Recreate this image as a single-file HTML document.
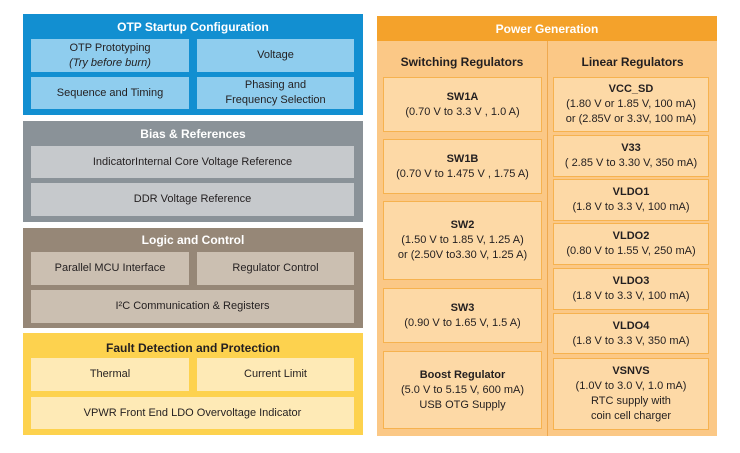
<!DOCTYPE html>
<html><head><meta charset="utf-8"><style>
*{margin:0;padding:0;box-sizing:border-box}
body{width:740px;height:453px;background:#fff;position:relative;overflow:hidden;font-family:"Liberation Sans",Arial,sans-serif;color:#231f20}
.a{position:absolute}
.hd{position:absolute;left:0;width:100%;text-align:center;font-weight:bold;font-size:12px;line-height:14px}
.b{position:absolute;display:flex;align-items:center;justify-content:center;text-align:center;font-size:11px;line-height:15px}
.p{position:absolute;display:flex;align-items:center;justify-content:center;text-align:center;font-size:11px;line-height:15px;background:#fdd9a6;border:1px solid #f6b24f}
.p b{font-weight:bold}
.blue .b{background:#8fcdee}
.gray .b{background:#c6c9cc}
.brown .b{background:#cbbfb1}
.yel .b{background:#feeab6}
</style></head><body>

<div class="a blue" style="left:23px;top:14px;width:340px;height:101px;background:#128fd1">
 <div class="hd" style="top:6px;color:#fff">OTP Startup Configuration</div>
 <div class="b" style="left:8px;top:25px;width:158px;height:33px"><div>OTP Prototyping<br><i>(Try before burn)</i></div></div>
 <div class="b" style="left:174px;top:25px;width:157px;height:33px"><div>Voltage</div></div>
 <div class="b" style="left:8px;top:63px;width:158px;height:32px"><div>Sequence and Timing</div></div>
 <div class="b" style="left:174px;top:63px;width:157px;height:32px"><div>Phasing and<br>Frequency Selection</div></div>
</div>

<div class="a gray" style="left:23px;top:121px;width:340px;height:101px;background:#8a9298">
 <div class="hd" style="top:6px;color:#fff">Bias &amp; References</div>
 <div class="b" style="left:8px;top:25px;width:323px;height:32px"><div>IndicatorInternal Core Voltage Reference</div></div>
 <div class="b" style="left:8px;top:62px;width:323px;height:33px"><div>DDR Voltage Reference</div></div>
</div>

<div class="a brown" style="left:23px;top:228px;width:340px;height:100px;background:#968777">
 <div class="hd" style="top:5px;color:#fff">Logic and Control</div>
 <div class="b" style="left:8px;top:24px;width:158px;height:33px"><div>Parallel MCU Interface</div></div>
 <div class="b" style="left:174px;top:24px;width:157px;height:33px"><div>Regulator Control</div></div>
 <div class="b" style="left:8px;top:62px;width:323px;height:33px"><div>I²C Communication &amp; Registers</div></div>
</div>

<div class="a yel" style="left:23px;top:333px;width:340px;height:102px;background:#fdd24e">
 <div class="hd" style="top:8px;color:#231f20">Fault Detection and Protection</div>
 <div class="b" style="left:8px;top:25px;width:158px;height:33px"><div>Thermal</div></div>
 <div class="b" style="left:174px;top:25px;width:157px;height:33px"><div>Current Limit</div></div>
 <div class="b" style="left:8px;top:64px;width:323px;height:32px"><div>VPWR Front End LDO Overvoltage Indicator</div></div>
</div>

<div class="a" style="left:377px;top:16px;width:340px;height:420px;background:#fbc886">
 <div class="a" style="left:0;top:0;width:340px;height:25px;background:#f4a22b"></div>
 <div class="hd" style="top:6px;color:#fff">Power Generation</div>
 <div class="a" style="left:170px;top:25px;width:1px;height:395px;background:#efa94f"></div>
 <div class="a" style="left:0;top:39px;width:170px;text-align:center;font-weight:bold;font-size:12px;line-height:14px">Switching Regulators</div>
 <div class="a" style="left:171px;top:39px;width:169px;text-align:center;font-weight:bold;font-size:12px;line-height:14px">Linear Regulators</div>
</div>

<div class="p" style="left:383px;top:77px;width:159px;height:55px"><div><b>SW1A</b><br>(0.70 V to 3.3 V , 1.0 A)</div></div>
<div class="p" style="left:383px;top:139px;width:159px;height:55px"><div><b>SW1B</b><br>(0.70 V to 1.475 V , 1.75 A)</div></div>
<div class="p" style="left:383px;top:201px;width:159px;height:79px"><div><b>SW2</b><br>(1.50 V to 1.85 V, 1.25 A)<br>or (2.50V to3.30 V, 1.25 A)</div></div>
<div class="p" style="left:383px;top:288px;width:159px;height:55px"><div><b>SW3</b><br>(0.90 V to 1.65 V, 1.5 A)</div></div>
<div class="p" style="left:383px;top:351px;width:159px;height:78px"><div><b>Boost Regulator</b><br>(5.0 V to 5.15 V, 600 mA)<br>USB OTG Supply</div></div>

<div class="p" style="left:553px;top:77px;width:156px;height:55px"><div><b>VCC_SD</b><br>(1.80 V or 1.85 V, 100 mA)<br>or (2.85V or 3.3V, 100 mA)</div></div>
<div class="p" style="left:553px;top:135px;width:156px;height:42px"><div><b>V33</b><br>( 2.85 V to 3.30 V, 350 mA)</div></div>
<div class="p" style="left:553px;top:179px;width:156px;height:42px"><div><b>VLDO1</b><br>(1.8 V to 3.3 V, 100 mA)</div></div>
<div class="p" style="left:553px;top:223px;width:156px;height:42px"><div><b>VLDO2</b><br>(0.80 V to 1.55 V, 250 mA)</div></div>
<div class="p" style="left:553px;top:268px;width:156px;height:42px"><div><b>VLDO3</b><br>(1.8 V to 3.3 V, 100 mA)</div></div>
<div class="p" style="left:553px;top:313px;width:156px;height:41px"><div><b>VLDO4</b><br>(1.8 V to 3.3 V, 350 mA)</div></div>
<div class="p" style="left:553px;top:358px;width:156px;height:72px"><div><b>VSNVS</b><br>(1.0V to 3.0 V, 1.0 mA)<br>RTC supply with<br>coin cell charger</div></div>

</body></html>
